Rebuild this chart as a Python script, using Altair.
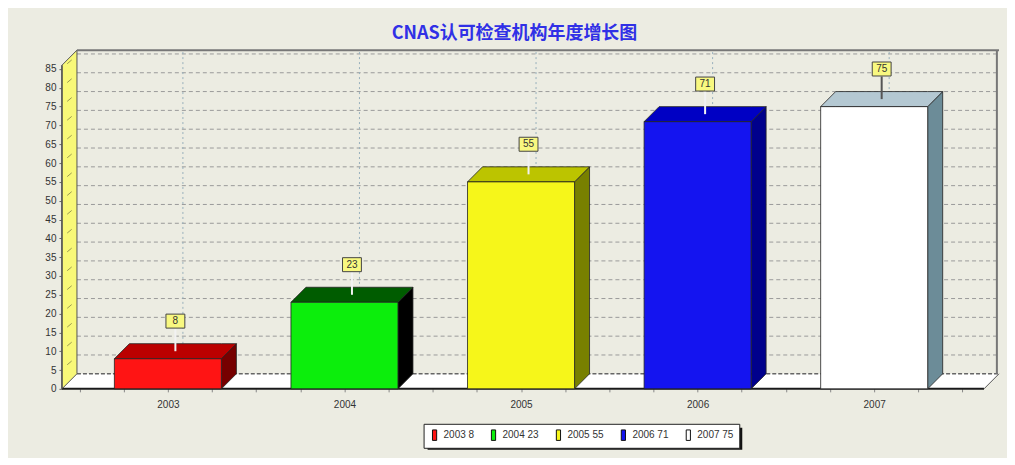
import altair as alt
import pandas as pd

# ---- data ----
years = [2003, 2004, 2005, 2006, 2007]
values = [8, 23, 55, 71, 75]
legend_labels = ["2003 8", "2004 23", "2005 55", "2006 71", "2007 75"]
front_colors = ["#ff1414", "#0cee0c", "#f6f61a", "#1414f0", "#ffffff"]
top_colors = ["#bb0000", "#005c00", "#bcc400", "#0000c4", "#b4c8d2"]
side_colors = ["#760000", "#000000", "#788000", "#00008c", "#6c8c98"]
link_colors = ["#f2f2f2", "#f2f2f2", "#f2f2f2", "#f2f2f2", "#555555"]
y_ticks = list(range(0, 90, 5))
x_ticks = [2002.5 + 0.25 * i for i in range(21)]
title_text = "CNAS认可检查机构年度增长图"

# ---- pseudo-3D geometry (style constants) ----
X_MIN, X_MAX = 2002.40, 2007.707
Y_MAX = 90
DX = 0.085   # depth in year units
DY = 4       # depth in value units
HALF_W = 0.303
WALL_TOP = 86
BG = "#ececE2"

xs = alt.Scale(domain=[X_MIN, X_MAX], nice=False, zero=False)
ys = alt.Scale(domain=[0, Y_MAX], nice=False, zero=False)
XAX = alt.Axis(values=x_ticks, title=None, domain=False, grid=False, tickSize=3, tickColor="#888888",
               labelExpr="datum.value % 1 == 0 ? format(datum.value, 'd') : ''",
               labelFontSize=10, labelColor="#333333", labelFont="Liberation Sans", labelPadding=8)
YAX = alt.Axis(values=y_ticks, title=None, domain=False, grid=False, tickSize=3, tickColor="#666666",
               labelFontSize=10, labelColor="#333333", labelFont="Liberation Sans", labelPadding=3)


def X(f):
    return alt.X(f, scale=xs, axis=XAX)


def Y(f):
    return alt.Y(f, scale=ys, axis=YAX)


bars = pd.DataFrame({"year": years, "value": values, "label": legend_labels,
                     "front": front_colors, "top": top_colors, "side": side_colors,
                     "link": link_colors})
bars["x0"] = bars["year"] - HALF_W
bars["x1"] = bars["year"] + HALF_W
bars["lx"] = bars["year"] + DX / 2

# faces as polygons (long form)
top_rows, side_rows = [], []
for y, v, tc, sc in zip(years, values, top_colors, side_colors):
    x0, x1 = y - HALF_W, y + HALF_W
    top_rows += [
        {"bar": y, "x": x0, "lo": v, "hi": v, "fill": tc},
        {"bar": y, "x": x0 + DX, "lo": v, "hi": v + DY, "fill": tc},
        {"bar": y, "x": x1, "lo": v, "hi": v + DY, "fill": tc},
        {"bar": y, "x": x1 + DX, "lo": v + DY, "hi": v + DY, "fill": tc},
    ]
    side_rows += [
        {"bar": y, "x": x1, "lo": 0, "hi": v, "fill": sc},
        {"bar": y, "x": x1 + DX, "lo": DY, "hi": v + DY, "fill": sc},
    ]
tops = pd.DataFrame(top_rows)
sides = pd.DataFrame(side_rows)

grid_h = pd.DataFrame({"v": [t + DY for t in y_ticks[1:]],
                       "xa": X_MIN + DX, "xb": X_MAX})
grid_v = pd.DataFrame({"x": [y + DX for y in years], "ya": DY, "yb": Y_MAX})
wall = pd.DataFrame({"x": [X_MIN, X_MIN + DX], "lo": [0, DY], "hi": [WALL_TOP, WALL_TOP + DY]})
wall_ticks = pd.DataFrame({"xa": X_MIN + DX * 0.35, "xb": X_MIN + DX * 0.65,
                           "ya": [t + 1.4 for t in y_ticks[1:]],
                           "yb": [t + 2.4 for t in y_ticks[1:]]})
floor = pd.DataFrame({"x": [X_MIN, X_MIN + DX, X_MAX - DX, X_MAX],
                      "lo": [0, 0, 0, DY], "hi": [0, DY, DY, DY]})
edges = pd.DataFrame([
    {"xa": X_MIN + DX, "xb": X_MAX, "ya": Y_MAX, "yb": Y_MAX, "c": "#777777", "w": 2},
    {"xa": X_MAX - 0.012, "xb": X_MAX - 0.012, "ya": DY, "yb": Y_MAX, "c": "#777777", "w": 2},
    {"xa": X_MIN, "xb": X_MAX - DX, "ya": 0, "yb": 0, "c": "#1a1a1a", "w": 2},
    {"xa": X_MAX - DX, "xb": X_MAX, "ya": 0, "yb": DY, "c": "#555555", "w": 1},
    {"xa": X_MIN, "xb": X_MIN, "ya": 0, "yb": WALL_TOP, "c": "#555555", "w": 1.5},
])

layers = []

# back wall horizontal grid
layers.append(alt.Chart(grid_h).mark_rule(color="#9a9a9a", strokeDash=[4, 3], strokeWidth=1).encode(
    x=X("xa:Q"), x2="xb:Q", y=Y("v:Q")))
# back wall vertical grid
layers.append(alt.Chart(grid_v).mark_rule(color="#98b0bc", strokeDash=[2, 3], strokeWidth=1).encode(
    x=X("x:Q"), y=Y("ya:Q"), y2="yb:Q"))
# floor
layers.append(alt.Chart(floor).mark_area(color="#ffffff").encode(
    x=X("x:Q"), y=Y("lo:Q"), y2="hi:Q"))
# floor back edge (dashed, dark)
layers.append(alt.Chart(pd.DataFrame({"xa": [X_MIN + DX], "xb": [X_MAX], "v": [DY]})).mark_rule(
    color="#666666", strokeDash=[4, 2], strokeWidth=1.5).encode(
    x=X("xa:Q"), x2="xb:Q", y=Y("v:Q")))
# left wall
layers.append(alt.Chart(wall).mark_area(color="#f8f878", stroke="#555555", strokeWidth=1).encode(
    x=X("x:Q"), y=Y("lo:Q"), y2="hi:Q"))
layers.append(alt.Chart(wall_ticks).mark_rule(color="#9a9a50", strokeWidth=1).encode(
    x=X("xa:Q"), x2="xb:Q", y=Y("ya:Q"), y2="yb:Q"))
# frame edges
layers.append(alt.Chart(edges).mark_rule().encode(
    x=X("xa:Q"), x2="xb:Q", y=Y("ya:Q"), y2="yb:Q",
    color=alt.Color("c:N", scale=None), strokeWidth=alt.StrokeWidth("w:Q", scale=None)))
# bar sides and tops
layers.append(alt.Chart(sides).mark_area(stroke="#222222", strokeWidth=0.8).encode(
    x=X("x:Q"), y=Y("lo:Q"), y2="hi:Q",
    detail="bar:N", fill=alt.Fill("fill:N", scale=None)))
layers.append(alt.Chart(tops).mark_area(stroke="#222222", strokeWidth=0.8).encode(
    x=X("x:Q"), y=Y("lo:Q"), y2="hi:Q",
    detail="bar:N", fill=alt.Fill("fill:N", scale=None)))
# bar fronts (with legend)
layers.append(alt.Chart(bars).mark_rect(stroke="#222222", strokeWidth=0.8).encode(
    x=X("x0:Q"), x2="x1:Q",
    y=Y("value:Q"), y2=alt.datum(0),
    color=alt.Color("label:N", scale=alt.Scale(domain=legend_labels, range=front_colors),
                    legend=alt.Legend(
                        title=None, orient="none", legendX=362, legendY=374, direction="horizontal",
                        fillColor="#ffffff", strokeColor="#222222", padding=5,
                        labelFontSize=10, labelColor="#333333", labelFont="Liberation Sans",
                        symbolType="M-0.4,-1L0.4,-1L0.4,1L-0.4,1Z", symbolSize=110,
                        symbolStrokeColor="#111111", symbolStrokeWidth=1,
                        columnPadding=13, labelOffset=3))))
# value label connectors
layers.append(alt.Chart(bars).transform_calculate(a="datum.value + 2", b="datum.value + 8").mark_rule(
    strokeWidth=2).encode(
    x=X("lx:Q"), y=Y("a:Q"), y2="b:Q", color=alt.Color("link:N", scale=None)))
# value label boxes
layers.append(alt.Chart(bars).transform_calculate(ly="datum.value + 10").mark_point(
    shape="M-1.35,-1L1.35,-1L1.35,1L-1.35,1Z", size=196, filled=True,
    fill="#f8f880", stroke="#444444", strokeWidth=1, opacity=1).encode(
    x=X("lx:Q"), y=Y("ly:Q")))
layers.append(alt.Chart(bars).transform_calculate(ly="datum.value + 10").mark_text(
    fontSize=10, color="#333333", font="Liberation Sans").encode(
    x=X("lx:Q"), y=Y("ly:Q"), text="value:Q"))
# legend drop shadow (decoration, pixel offsets relative to the plot)
layers.append(alt.Chart(pd.DataFrame({"k": [0]})).mark_rect(color="#111111").encode(
    x=alt.value(366), x2=alt.value(681), y=alt.value(378), y2=alt.value(400)))

chart = alt.layer(*layers).properties(
    width=938, height=339,
    padding={"left": 54, "top": 42, "right": 8, "bottom": 69},
    autosize=alt.AutoSizeParams(type="none"),
    background=BG,
    title=alt.TitleParams(title_text, color="#3030e6", fontSize=18, fontWeight="bold",
                          font="Noto Sans CJK SC", anchor="middle", dx=-16, offset=5),
).configure_view(stroke=None)

chart.save("out.html", embed_options={"renderer": "svg", "actions": False})
